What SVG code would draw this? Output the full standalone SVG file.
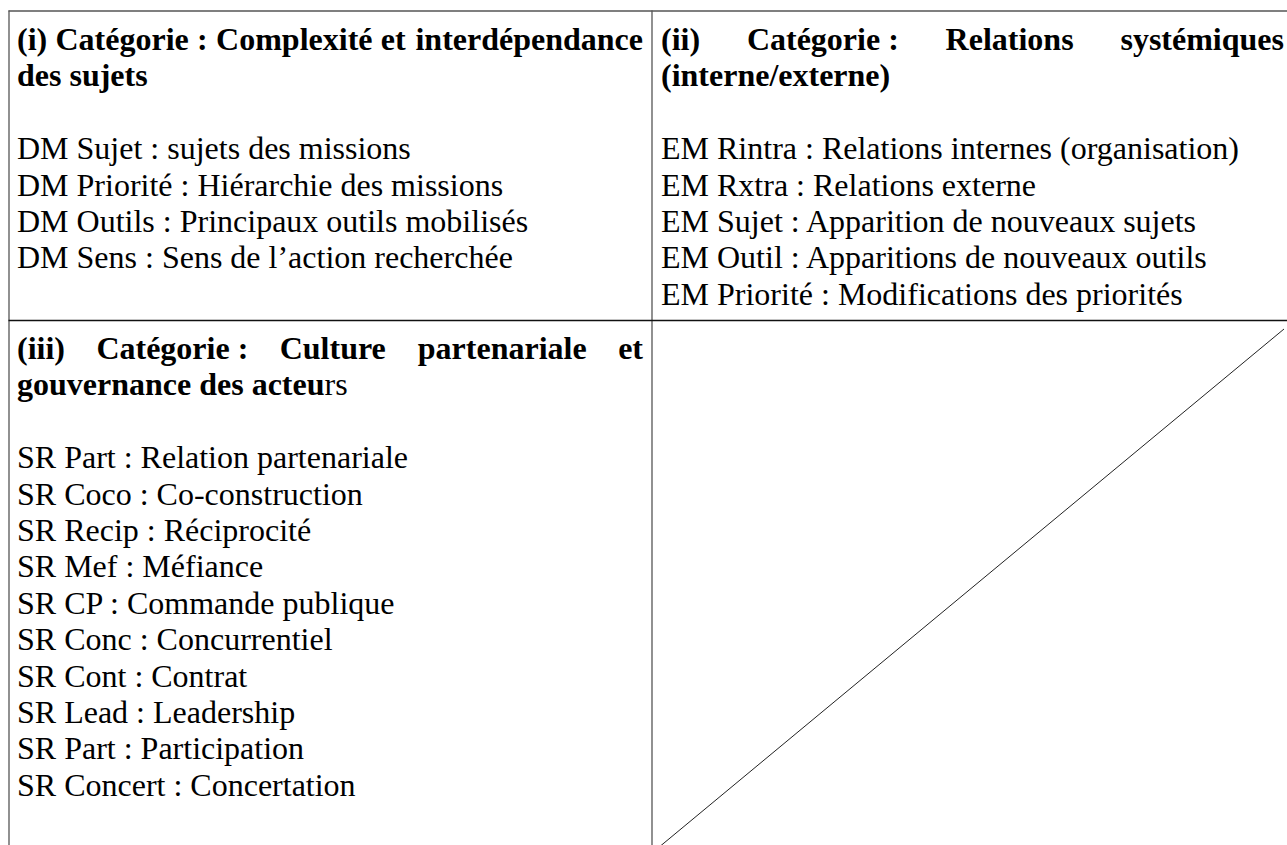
<svg xmlns="http://www.w3.org/2000/svg" width="1287" height="845" viewBox="0 0 1287 845">
<style>
text{font-family:"Liberation Serif","Times New Roman",serif;font-size:32px;fill:#000}
.h{font-weight:bold}
.grid{stroke:#555;stroke-width:1.3;fill:none}
.rule{stroke:#111;stroke-width:1.3;fill:none}
</style>
<rect width="1287" height="845" fill="#fff"/>
<g id="grid">
<line class="grid" x1="8.5" y1="11" x2="1287" y2="11"/>
<line class="grid" x1="9" y1="10.5" x2="9" y2="845"/>
<line class="grid" x1="652" y1="10.5" x2="652" y2="845"/>
<line class="rule" x1="8.5" y1="320.5" x2="1287" y2="320.5"/>
<line x1="1284" y1="329" x2="658" y2="848" stroke="#222" stroke-width="1"/>
</g>
<g id="cell-i">
<text class="h" y="50"><tspan x="17">(i)</tspan><tspan x="55.5">Catégorie</tspan><tspan x="197.1">:</tspan><tspan x="216.1">Complexité</tspan><tspan x="380.8">et</tspan><tspan x="643" text-anchor="end">interdépendance</tspan></text>
<text class="h" x="17" y="86.4">des sujets</text>
<text x="17" y="159.2">DM Sujet : sujets des missions</text>
<text x="17" y="195.6">DM Priorité : Hiérarchie des missions</text>
<text x="17" y="232">DM Outils : Principaux outils mobilisés</text>
<text x="17" y="268.4">DM Sens : Sens de l’action recherchée</text>
</g>
<g id="cell-ii">
<text class="h" y="50"><tspan x="661">(ii)</tspan><tspan x="746.9">Catégorie :</tspan><tspan x="945.6">Relations</tspan><tspan x="1284" text-anchor="end">systémiques</tspan></text>
<text class="h" x="661" y="86.4">(interne/externe)</text>
<text x="661" y="159.2">EM Rintra : Relations internes (organisation)</text>
<text x="661" y="195.6">EM Rxtra : Relations externe</text>
<text x="661" y="232">EM Sujet : Apparition de nouveaux sujets</text>
<text x="661" y="268.4">EM Outil : Apparitions de nouveaux outils</text>
<text x="661" y="304.8">EM Priorité : Modifications des priorités</text>
</g>
<g id="cell-iii">
<text class="h" y="359"><tspan x="17">(iii)</tspan><tspan x="96.4">Catégorie :</tspan><tspan x="279.7">Culture</tspan><tspan x="417.8">partenariale</tspan><tspan x="643" text-anchor="end">et</tspan></text>
<text class="h" x="17" y="395.4">gouvernance des acteu<tspan font-weight="normal">rs</tspan></text>
<text x="17" y="468.2">SR Part : Relation partenariale</text>
<text x="17" y="504.6">SR Coco : Co-construction</text>
<text x="17" y="541">SR Recip : Réciprocité</text>
<text x="17" y="577.4">SR Mef : Méfiance</text>
<text x="17" y="613.8">SR CP : Commande publique</text>
<text x="17" y="650.2">SR Conc : Concurrentiel</text>
<text x="17" y="686.6">SR Cont : Contrat</text>
<text x="17" y="723">SR Lead : Leadership</text>
<text x="17" y="759.4">SR Part : Participation</text>
<text x="17" y="795.8">SR Concert : Concertation</text>
</g>
<g id="cell-iv"></g>
</svg>
